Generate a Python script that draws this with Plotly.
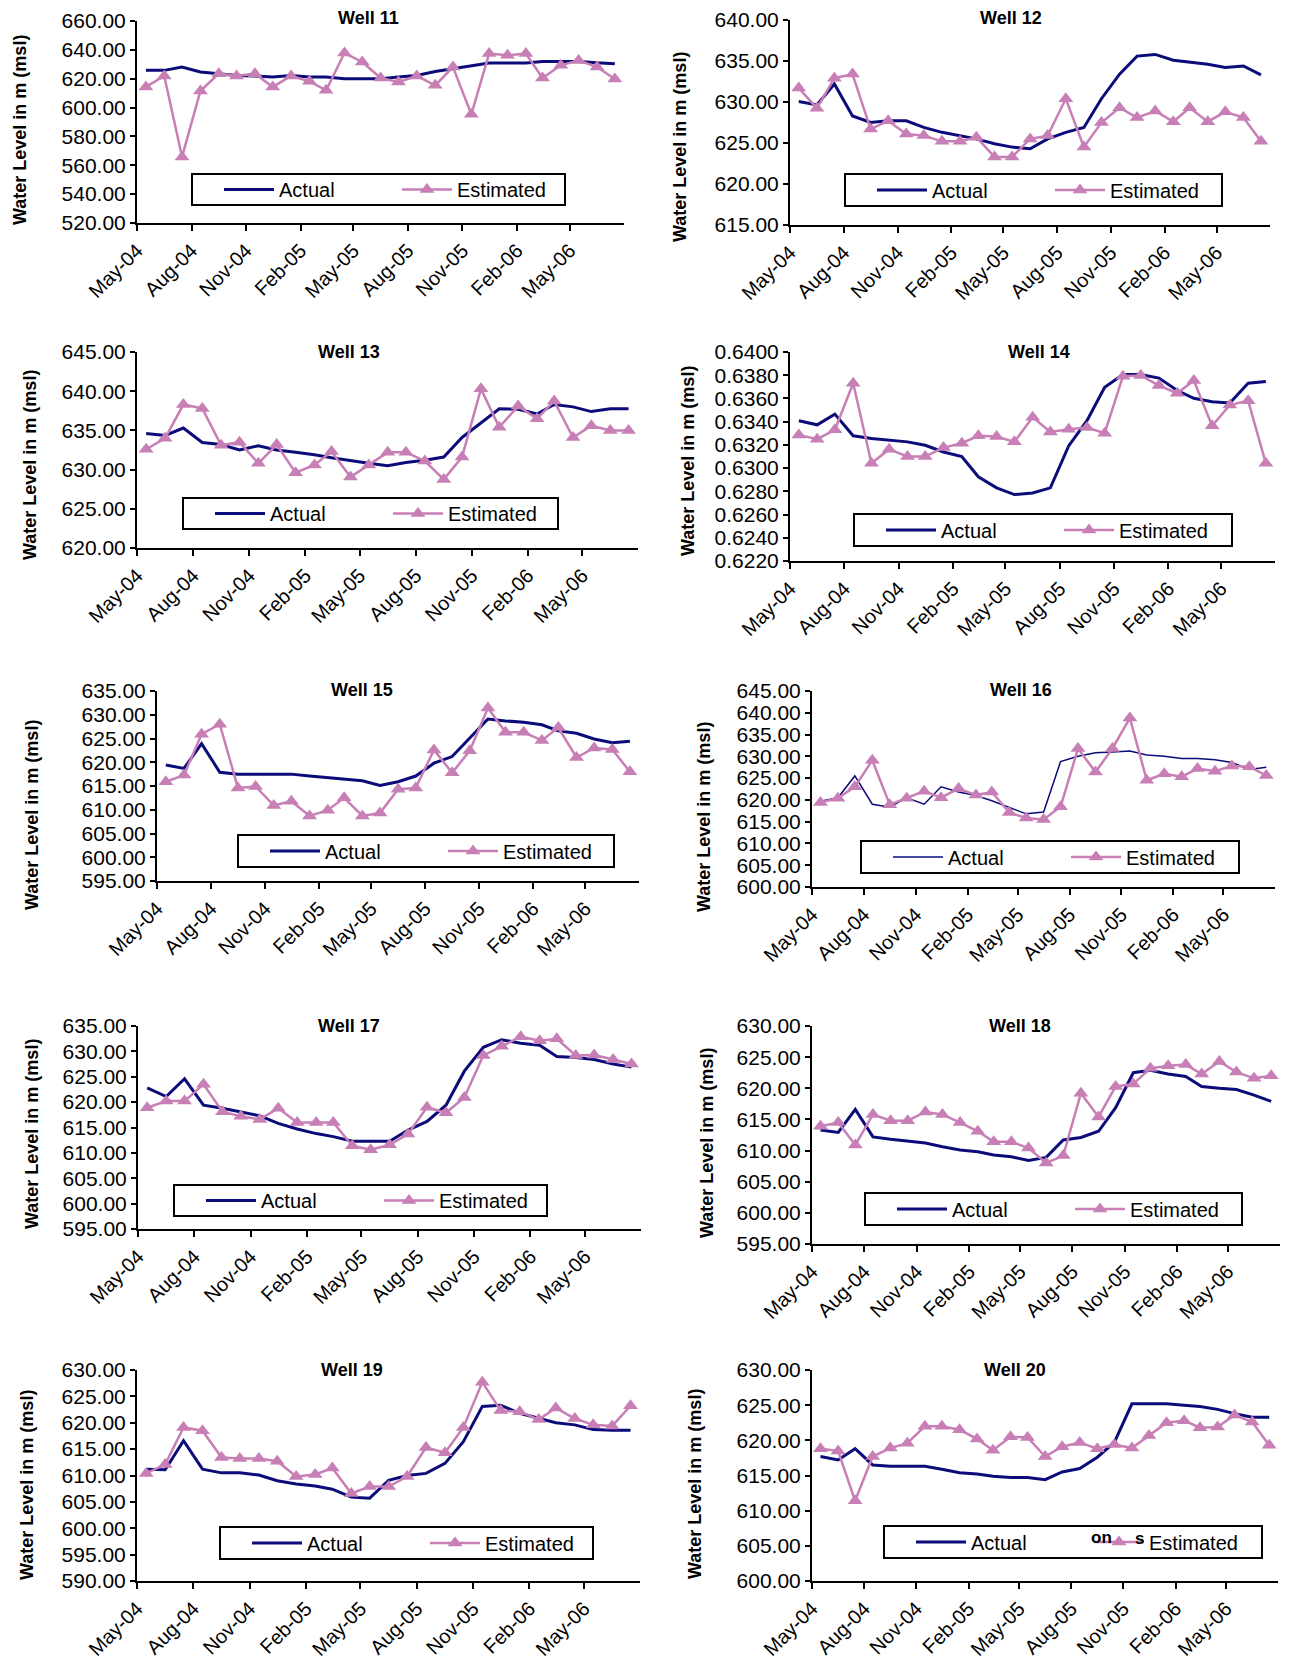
import plotly.graph_objects as go

W, H = 1301, 1672          # browser window
OFF = 8                    # default body margin of the html page
FW, FH = W - 2 * OFF, H - 2 * OFF
NAVY = "#0B0B7A"
PINK = "#C77FB5"
FONT = "Liberation Sans, Arial, sans-serif"


def px(x):
    return (x - OFF) / FW


def py(y):
    return 1 - (y - OFF) / FH


# monthly readings, May-04 .. Jul-06
months = ["2004-05-16", "2004-06-16", "2004-07-16", "2004-08-16", "2004-09-16",
          "2004-10-16", "2004-11-16", "2004-12-16", "2005-01-16", "2005-02-16",
          "2005-03-16", "2005-04-16", "2005-05-16", "2005-06-16", "2005-07-16",
          "2005-08-16", "2005-09-16", "2005-10-16", "2005-11-16", "2005-12-16",
          "2006-01-16", "2006-02-16", "2006-03-16", "2006-04-16", "2006-05-16",
          "2006-06-16", "2006-07-16"]
tick_vals = ["2004-05-01", "2004-08-01", "2004-11-01", "2005-02-01", "2005-05-01",
             "2005-08-01", "2005-11-01", "2006-02-01", "2006-05-01"]
tick_text = ["May-04", "Aug-04", "Nov-04", "Feb-05", "May-05", "Aug-05", "Nov-05", "Feb-06", "May-06"]

act_11 = [625.8, 625.8, 628.1, 624.7, 623.5, 622.3, 621.9, 621.2, 622.3, 621.2, 621.2, 620.0, 620.0, 620.0,
          621.2, 622.3, 625.0, 627.0, 628.8, 630.9, 630.9, 630.9, 632.0, 632.2, 632.0, 631.0, 630.4]
est_11 = [614.3, 621.9, 565.8, 611.5, 623.5, 621.9, 623.5, 614.3, 621.9, 618.2, 612.0, 637.8, 631.6, 620.5,
          617.7, 621.9, 615.4, 628.1, 595.3, 637.4, 636.2, 637.4, 620.5, 629.3, 632.7, 628.1, 619.8]

act_12 = [630.05, 629.65, 632.2, 628.3, 627.5, 627.7, 627.7, 626.9, 626.3, 625.9, 625.5, 624.9, 624.5, 624.3,
          625.5, 626.3, 626.9, 630.4, 633.4, 635.6, 635.8, 635.1, 634.9, 634.6, 634.2, 634.4, 633.3]
est_12 = [631.7, 629.25, 632.9, 633.4, 626.7, 627.7, 626.1, 625.9, 625.2, 625.2, 625.7, 623.3, 623.3, 625.5,
          625.9, 630.4, 624.5, 627.5, 629.3, 628.1, 628.9, 627.6, 629.3, 627.6, 628.8, 628.1, 625.2]

act_13 = [634.6, 634.35, 635.3, 633.45, 633.2, 632.5, 633.05, 632.5, 632.2, 631.9, 631.5, 631.1, 630.8, 630.5,
          630.9, 631.2, 631.6, 634.1, 635.95, 637.75, 637.7, 637.1, 638.3, 638.0, 637.4, 637.75, 637.75]
est_13 = [632.6, 634.0, 638.3, 637.8, 633.1, 633.5, 630.8, 633.2, 629.6, 630.6, 632.3, 629.05, 630.6, 632.2,
          632.2, 631.1, 628.75, 631.6, 640.3, 635.4, 638.1, 636.5, 638.75, 634.1, 635.6, 635.0, 635.0]

act_14 = [0.63408, 0.63373, 0.63465, 0.63278, 0.63255, 0.63240, 0.63226, 0.63197, 0.63139, 0.63099, 0.62925,
          0.62830, 0.62772, 0.62786, 0.62830, 0.63191, 0.63408, 0.63697, 0.63806, 0.63806, 0.63775, 0.63668,
          0.63601, 0.63572, 0.63561, 0.63731, 0.63746]
est_14 = [0.63286, 0.63249, 0.63330, 0.63731, 0.63041, 0.63162, 0.63099, 0.63099, 0.63177, 0.63214, 0.63278,
          0.63272, 0.63226, 0.63437, 0.63312, 0.63335, 0.63350, 0.63301, 0.63792, 0.63798, 0.63711, 0.63645,
          0.63754, 0.63364, 0.63543, 0.63581, 0.63041]

act_15 = [619.4, 618.7, 623.9, 617.9, 617.5, 617.5, 617.5, 617.5, 617.1, 616.8, 616.4, 616.1, 615.1, 615.9,
          617.1, 619.8, 621.2, 625.1, 629.1, 628.7, 628.4, 627.9, 626.6, 626.1, 624.9, 624.1, 624.4]
est_15 = [615.9, 617.3, 625.9, 628.0, 614.6, 614.9, 610.9, 611.8, 608.7, 609.9, 612.5, 608.7, 609.3, 614.3,
          614.6, 622.6, 617.8, 622.4, 631.4, 626.3, 626.3, 624.6, 627.3, 621.0, 623.0, 622.7, 618.0]

act_16 = [619.7, 620.5, 625.5, 619.0, 618.3, 620.5, 619.0, 623.0, 621.8, 621.0, 619.8, 618.3, 616.8, 617.2,
          628.8, 630.0, 630.8, 631.0, 631.2, 630.3, 630.0, 629.5, 629.5, 629.2, 628.6, 627.0, 627.5]
est_16 = [619.4, 620.4, 623.0, 629.1, 618.9, 620.4, 622.0, 620.5, 622.6, 621.1, 621.8, 617.1, 615.85, 615.5,
          618.4, 631.8, 626.4, 631.8, 638.8, 624.5, 626.0, 625.3, 627.2, 626.6, 627.8, 627.6, 625.6]

act_17 = [622.8, 621.1, 624.6, 619.4, 618.8, 618.1, 617.3, 615.8, 614.7, 613.8, 613.2, 612.3, 612.3, 612.3,
          614.5, 616.2, 619.4, 626.1, 630.8, 632.3, 631.6, 631.2, 629.0, 628.8, 628.4, 627.5, 626.9]
est_17 = [618.9, 620.2, 620.2, 623.5, 618.1, 617.2, 616.6, 618.8, 616.0, 616.0, 616.0, 611.4, 610.6, 611.6,
          613.7, 619.0, 617.9, 620.9, 629.2, 631.0, 632.9, 632.1, 632.5, 629.2, 629.3, 628.4, 627.5]

act_18 = [613.3, 612.9, 616.6, 612.2, 611.8, 611.5, 611.2, 610.6, 610.1, 609.8, 609.3, 609.0, 608.4, 608.9,
          611.7, 612.1, 613.1, 616.9, 622.5, 622.9, 622.3, 621.9, 620.3, 620.0, 619.8, 618.9, 617.9]
est_18 = [613.9, 614.5, 610.9, 615.8, 614.8, 614.8, 616.2, 615.8, 614.5, 613.1, 611.4, 611.4, 610.4, 608.0,
          609.2, 619.2, 615.4, 620.3, 620.7, 623.2, 623.6, 623.8, 622.3, 624.3, 622.6, 621.6, 622.0]

act_19 = [611.2, 611.1, 616.6, 611.2, 610.5, 610.5, 610.1, 609.0, 608.4, 608.0, 607.4, 605.9, 605.7, 609.1,
          610.0, 610.4, 612.3, 616.4, 623.1, 623.3, 621.8, 620.8, 620.0, 619.6, 618.7, 618.6, 618.6]
est_19 = [610.4, 612.1, 619.1, 618.5, 613.4, 613.2, 613.2, 612.7, 609.8, 610.2, 611.4, 606.6, 607.9, 607.9,
          609.8, 615.3, 614.3, 619.1, 627.7, 622.3, 622.1, 620.6, 622.8, 620.8, 619.6, 619.4, 623.2]

act_20 = [617.7, 617.2, 618.8, 616.5, 616.3, 616.3, 616.3, 615.9, 615.4, 615.2, 614.9, 614.7, 614.7, 614.4,
          615.5, 616.0, 617.6, 619.7, 625.2, 625.2, 625.2, 625.0, 624.8, 624.4, 623.8, 623.3, 623.3]
est_20 = [618.8, 618.5, 611.4, 617.7, 618.9, 619.6, 622.0, 622.0, 621.5, 620.2, 618.6, 620.5, 620.4, 617.7,
          619.1, 619.7, 618.8, 619.4, 618.9, 620.7, 622.5, 622.8, 621.8, 621.9, 623.6, 622.6, 619.3]

# page pixels: plot box (x0, x1, top, bottom), title, y-title, legend box (x0, x1, top, bottom)
panels = [
    dict(name="Well 11", act=act_11, est=est_11, yr=(520, 660, 20), fmt=".2f",
         box=(137, 624, 21, 223), title=(368, 18), ytitle=(20, 130), leg=(192, 565, 174, 205), lw=3),
    dict(name="Well 12", act=act_12, est=est_12, yr=(615, 640, 5), fmt=".2f",
         box=(790, 1270, 20, 225), title=(1011, 18), ytitle=(680, 147), leg=(845, 1222, 174, 206), lw=3),
    dict(name="Well 13", act=act_13, est=est_13, yr=(620, 645, 5), fmt=".2f",
         box=(137, 638, 352, 548), title=(349, 352), ytitle=(30, 465), leg=(183, 558, 498, 529), lw=3),
    dict(name="Well 14", act=act_14, est=est_14, yr=(0.622, 0.640, 0.002), fmt=".4f",
         box=(790, 1275, 352, 561), title=(1039, 352), ytitle=(688, 461), leg=(854, 1232, 514, 546), lw=3),
    dict(name="Well 15", act=act_15, est=est_15, yr=(595, 635, 5), fmt=".2f",
         box=(157, 639, 691, 881), title=(362, 690), ytitle=(32, 815), leg=(238, 614, 835, 867), lw=3),
    dict(name="Well 16", act=act_16, est=est_16, yr=(600, 645, 5), fmt=".2f",
         box=(812, 1275, 691, 887), title=(1021, 690), ytitle=(704, 817), leg=(861, 1239, 841, 873), lw=1.5),
    dict(name="Well 17", act=act_17, est=est_17, yr=(595, 635, 5), fmt=".2f",
         box=(138, 641, 1026, 1229), title=(349, 1026), ytitle=(32, 1134), leg=(174, 547, 1185, 1216), lw=3),
    dict(name="Well 18", act=act_18, est=est_18, yr=(595, 630, 5), fmt=".2f",
         box=(812, 1280, 1026, 1244), title=(1020, 1026), ytitle=(707, 1143), leg=(865, 1242, 1193, 1225), lw=3),
    dict(name="Well 19", act=act_19, est=est_19, yr=(590, 630, 5), fmt=".2f",
         box=(137, 640, 1370, 1581), title=(352, 1370), ytitle=(27, 1485), leg=(220, 593, 1527, 1559), lw=3),
    dict(name="Well 20", act=act_20, est=est_20, yr=(600, 630, 5), fmt=".2f",
         box=(812, 1278, 1370, 1581), title=(1015, 1370), ytitle=(695, 1484), leg=(884, 1262, 1526, 1558), lw=3),
]

fig = go.Figure()
layout = {}
annotations = []
shapes = []

for i, p in enumerate(panels):
    n = "" if i == 0 else str(i + 1)
    x0, x1, top, bot = p["box"]
    fig.add_trace(go.Scatter(x=months, y=p["act"], mode="lines", name="Actual",
                             line=dict(color=NAVY, width=p["lw"]),
                             xaxis="x" + n, yaxis="y" + n, legend="legend" + n))
    fig.add_trace(go.Scatter(x=months, y=p["est"], mode="lines+markers", name="Estimated",
                             line=dict(color=PINK, width=2.5),
                             marker=dict(symbol="triangle-up", size=13, color=PINK),
                             xaxis="x" + n, yaxis="y" + n, legend="legend" + n))
    lo, hi, step = p["yr"]
    eps = step * 1e-4
    layout["xaxis" + n] = dict(
        domain=[px(x0), px(x1)], anchor="y" + n, type="date",
        range=["2004-05-01", "2006-07-31 12:00"],
        tickvals=tick_vals, ticktext=tick_text, tickangle=-45,
        ticks="outside", ticklen=6, tickcolor="black", tickwidth=1.5,
        showline=True, linecolor="black", linewidth=2,
        showgrid=False, zeroline=False, ticklabeloverflow="allow",
        tickfont=dict(family=FONT, size=20, color="black"))
    layout["yaxis" + n] = dict(
        domain=[py(bot), py(top)], anchor="x" + n,
        range=[lo - eps, hi + eps], tick0=lo, dtick=step, tickformat=p["fmt"],
        ticks="outside", ticklen=5, tickcolor="black", tickwidth=1.5,
        showline=True, linecolor="black", linewidth=2,
        showgrid=False, zeroline=False, ticklabeloverflow="allow",
        tickfont=dict(family=FONT, size=21, color="black"))
    lx0, lx1, ly0, ly1 = p["leg"]
    shapes.append(dict(type="rect", xref="paper", yref="paper",
                       x0=px(lx0), x1=px(lx1), y0=py(ly1), y1=py(ly0),
                       line=dict(color="black", width=2), fillcolor="white", layer="above"))
    layout["legend" + n] = dict(
        x=px(lx0 + 27), y=py((ly0 + ly1) / 2), xanchor="left", yanchor="middle",
        orientation="h", bgcolor="rgba(0,0,0,0)", borderwidth=0,
        font=dict(family=FONT, size=20, color="black"),
        itemwidth=50, entrywidth=113, entrywidthmode="pixels")
    tx, ty = p["title"]
    annotations.append(dict(text="<b>" + p["name"] + "</b>", x=px(tx), y=py(ty),
                            xref="paper", yref="paper", showarrow=False,
                            xanchor="center", yanchor="middle",
                            font=dict(family=FONT, size=18, color="black")))
    yx, yy = p["ytitle"]
    annotations.append(dict(text="<b>Water Level in m (msl)</b>", x=px(yx), y=py(yy),
                            xref="paper", yref="paper", showarrow=False, textangle=-90,
                            xanchor="center", yanchor="middle",
                            font=dict(family=FONT, size=18, color="black")))

# stray glyphs in the Well 20 legend
annotations.append(dict(text="<b>on</b>", x=px(1101), y=py(1537), xref="paper", yref="paper",
                        xanchor="center", yanchor="middle", showarrow=False,
                        font=dict(family=FONT, size=17, color="black")))
annotations.append(dict(text="<b>s</b>", x=px(1139), y=py(1538), xref="paper", yref="paper",
                        xanchor="center", yanchor="middle", showarrow=False,
                        font=dict(family=FONT, size=17, color="black")))

fig.update_layout(**layout)
fig.update_layout(width=FW, height=FH, margin=dict(l=0, r=0, t=0, b=0),
                  template="none", plot_bgcolor="white", paper_bgcolor="white",
                  font=dict(family=FONT, color="black"), showlegend=True,
                  annotations=annotations, shapes=shapes)

fig.write_html("out.html")
